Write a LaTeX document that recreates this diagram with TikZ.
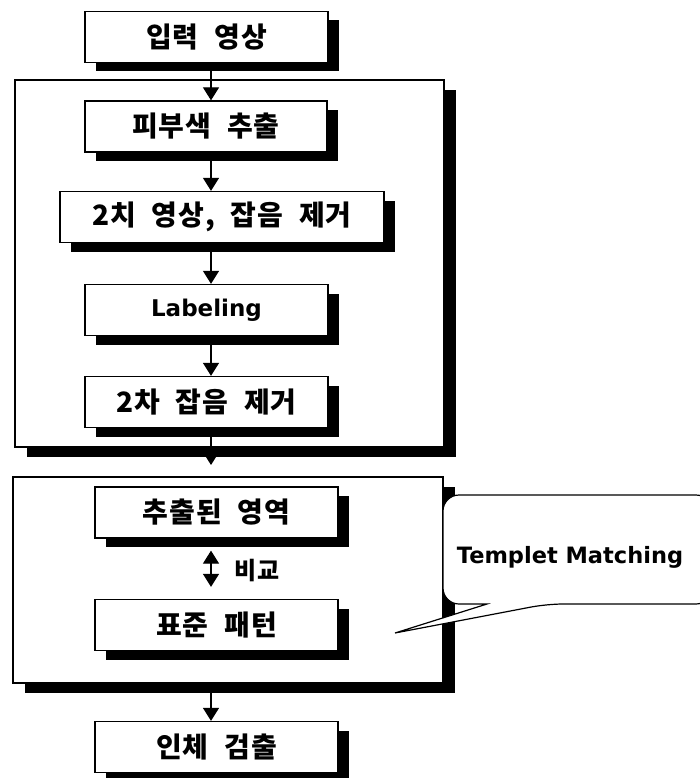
\documentclass[tikz,border=0pt]{standalone}
\usepackage{fontspec}
\setmainfont{Noto Sans CJK KR}[WordSpace=2.2,LetterSpace=3]
\newfontfamily\latinfont{DejaVu Sans}
\usetikzlibrary{arrows.meta,shadows}
\tikzset{
  stepbox/.style={draw,fill=white,line width=1.3pt,minimum height=51pt,inner sep=0pt,
    font=\bfseries\fontsize{28}{32}\selectfont,
    drop shadow={shadow xshift=11pt,shadow yshift=-9pt,fill=black,opacity=1}},
  groupbox/.style={draw,fill=white,line width=1.2pt,inner sep=0pt,
    drop shadow={shadow xshift=12pt,shadow yshift=-10pt,fill=black,opacity=1}},
  flow/.style={line width=1.3pt,-{Triangle[width=16pt,length=13pt]}},
}
\begin{document}
\begin{tikzpicture}[x=1pt,y=-1pt]
\useasboundingbox (0,0) rectangle (700,778);
\node[groupbox,minimum width=429pt,minimum height=367pt] (grp1) at (229.5,263.5) {};
\node[groupbox,minimum width=430pt,minimum height=206pt] (grp2) at (228,580) {};
\foreach \nm/\cx/\cy/\bw/\lab in {input/206.5/37/243/{입력 영상},skin/206/126.5/242/{피부색 추출},
  bin/222/217/324/{2치 영상, 잡음 제거},lab/206.5/310/243/{\latinfont\fontsize{23}{27}\selectfont Labeling},
  noise/206.5/402/243/{2차 잡음 제거},ext/216.5/512.5/243/{추출된 영역},pat/216.5/625/243/{표준 패턴},
  body/216.5/747/243/{인체 검출}}
  \node[stepbox,minimum width=\bw pt] (\nm) at (\cx,\cy) {\lab};
\coordinate (spine) at (211,0);
\coordinate (gin) at (211,465);
\foreach \a/\b in {input/skin,skin/bin,bin/lab,lab/noise}
  \draw[flow] (\a.south -| spine) -- (\b.north -| spine);
\draw[flow] (noise.south -| spine) -- (gin);
\draw[flow] (grp2.south -| spine) -- (body.north -| spine);
\draw[flow,{Triangle[width=16pt,length=13pt]}-{Triangle[width=16pt,length=13pt]},shorten <=12pt,shorten >=12pt]
  (ext.south -| spine) -- (pat.north -| spine);
\node[font=\bfseries\fontsize{24}{28}\selectfont] (cmp) at (257,571) {비교};
\draw[line width=1.2pt,fill=white] (395,633) -- (487,604) [rounded corners=16pt] -- (443,604) -- (443,495)
  -- (712,495) -- (712,604) -- (547,604) [sharp corners] -- cycle;
\node[font=\latinfont\bfseries\fontsize{22.5}{26}\selectfont] (tm) at (570,557) {Templet Matching};
\end{tikzpicture}
\end{document}
